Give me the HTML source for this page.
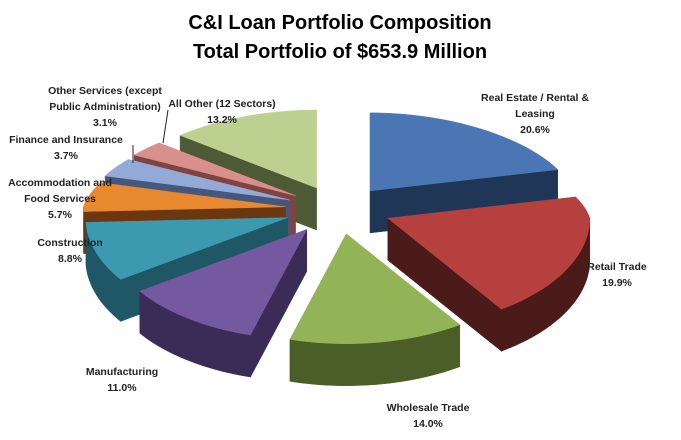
<!DOCTYPE html>
<html><head><meta charset="utf-8"><style>
body{margin:0;background:#fff;}
svg{display:block;font-family:"Liberation Sans",sans-serif;}
.lbl{font-size:10.5px;font-weight:bold;fill:#222;text-anchor:middle;}
</style></head><body>
<svg id="chart" width="681" height="440">
<text x="340" y="29" font-size="20" font-weight="bold" text-anchor="middle">C&amp;I Loan Portfolio Composition</text>
<text x="340" y="58" font-size="20" font-weight="bold" text-anchor="middle">Total Portfolio of $653.9 Million</text>
<g id="slices"></g>
<g id="labels">
<line x1="168" y1="110" x2="163" y2="143" stroke="#222" stroke-width="1"/>
<line x1="133" y1="145" x2="133" y2="163" stroke="#222" stroke-width="1"/>
</g>
</svg>
<script>
const categories = ["Real Estate / Rental & Leasing","Retail Trade","Wholesale Trade","Manufacturing","Construction","Accommodation and Food Services","Finance and Insurance","Other Services (except Public Administration)","All Other (12 Sectors)"];
const values = [20.6,19.9,14.0,11.0,8.8,5.7,3.7,3.1,13.2];
const valueLabels = ["20.6%","19.9%","14.0%","11.0%","8.8%","5.7%","3.7%","3.1%","13.2%"];
const topColors = ["#4A77B4","#B5403D","#93B456","#7459A0","#3C9AB0","#E8882F","#93A9D6","#D98F8C","#BCD18F"];
const sideColors = ["#1F3656","#4A1B19","#4B5E28","#3B2C57","#1F5766","#6B3710","#45577D","#7F4442","#4E5A36"];
const labelLines = [["Real Estate / Rental &","Leasing"],["Retail Trade"],["Wholesale Trade"],["Manufacturing"],["Construction"],["Accommodation and","Food Services"],["Finance and Insurance"],["Other Services (except","Public Administration)"],["All Other (12 Sectors)"]];
const labelAnchors = [[535,101],[617,270],[428,411],[122,375],[70,246],[60,186],[66,143],[105,94],[222,107]];

const cx=338, cy=210, depth=42, ex=53, ey=24;
const NS="http://www.w3.org/2000/svg";
const total=values.reduce((a,b)=>a+b,0);
function pt(c,th,dz){const co=Math.cos(th);const rx=co>0?202-25*co:202;
 return [c[0]+rx*Math.sin(th), c[1]-(co>0?78:110)*co+(dz||0)];}
function arcPts(c,a1,a2,dz){const n=Math.max(2,Math.ceil((a2-a1)/0.03));const r=[];for(let i=0;i<=n;i++)r.push(pt(c,a1+(a2-a1)*i/n,dz));return r;}
function poly(pts,fill,name){const p=document.createElementNS(NS,"path");p.setAttribute("d","M"+pts.map(q=>q[0].toFixed(1)+","+q[1].toFixed(1)).join("L")+"Z");p.setAttribute("fill",fill);p.setAttribute("stroke",fill);p.setAttribute("stroke-width","0.5");


return p;}
const g=document.getElementById("slices");
let acc=0;const sl=[];
values.forEach((v,i)=>{const a1=acc/total*2*Math.PI;acc+=v;const a2=acc/total*2*Math.PI;const m=(a1+a2)/2;
const c=[cx+ex*Math.sin(m), cy-ey*Math.cos(m)];sl.push({i,a1,a2,m,c});});
sl.slice().sort((a,b)=>(a.c[1]-60*Math.cos(a.m))-(b.c[1]-60*Math.cos(b.m))).forEach(s=>{
 const {i,a1,a2,c}=s;const grp=document.createElementNS(NS,"g");
 
 
 const side=sideColors[i];
 if(Math.sin(a1)<0){const p=pt(c,a1);grp.appendChild(poly([c,p,[p[0],p[1]+depth],[c[0],c[1]+depth]],side,"slice-start-wall"));}
 if(Math.sin(a2)>0){const p=pt(c,a2);grp.appendChild(poly([c,p,[p[0],p[1]+depth],[c[0],c[1]+depth]],side,"slice-end-wall"));}
 const f1=Math.max(a1,Math.PI/2), f2=Math.min(a2,1.5*Math.PI);
 if(f2>f1){const top=arcPts(c,f1,f2,0),bot=arcPts(c,f1,f2,depth).reverse();grp.appendChild(poly(top.concat(bot),side,"slice-outer-wall"));}
 grp.appendChild(poly([c].concat(arcPts(c,a1,a2,0)),topColors[i],"slice-top"));
 g.appendChild(grp);
});
const L=document.getElementById("labels");
categories.forEach((cat,i)=>{const [x,y]=labelAnchors[i];const lines=labelLines[i].concat([valueLabels[i]]);
 const t=document.createElementNS(NS,"text");t.setAttribute("class","lbl");
 
 
 lines.forEach((ln,k)=>{const ts=document.createElementNS(NS,"tspan");ts.setAttribute("x",x);ts.setAttribute("y",y+k*16);ts.textContent=ln;t.appendChild(ts);});
 L.appendChild(t);});
</script>
</body></html>
